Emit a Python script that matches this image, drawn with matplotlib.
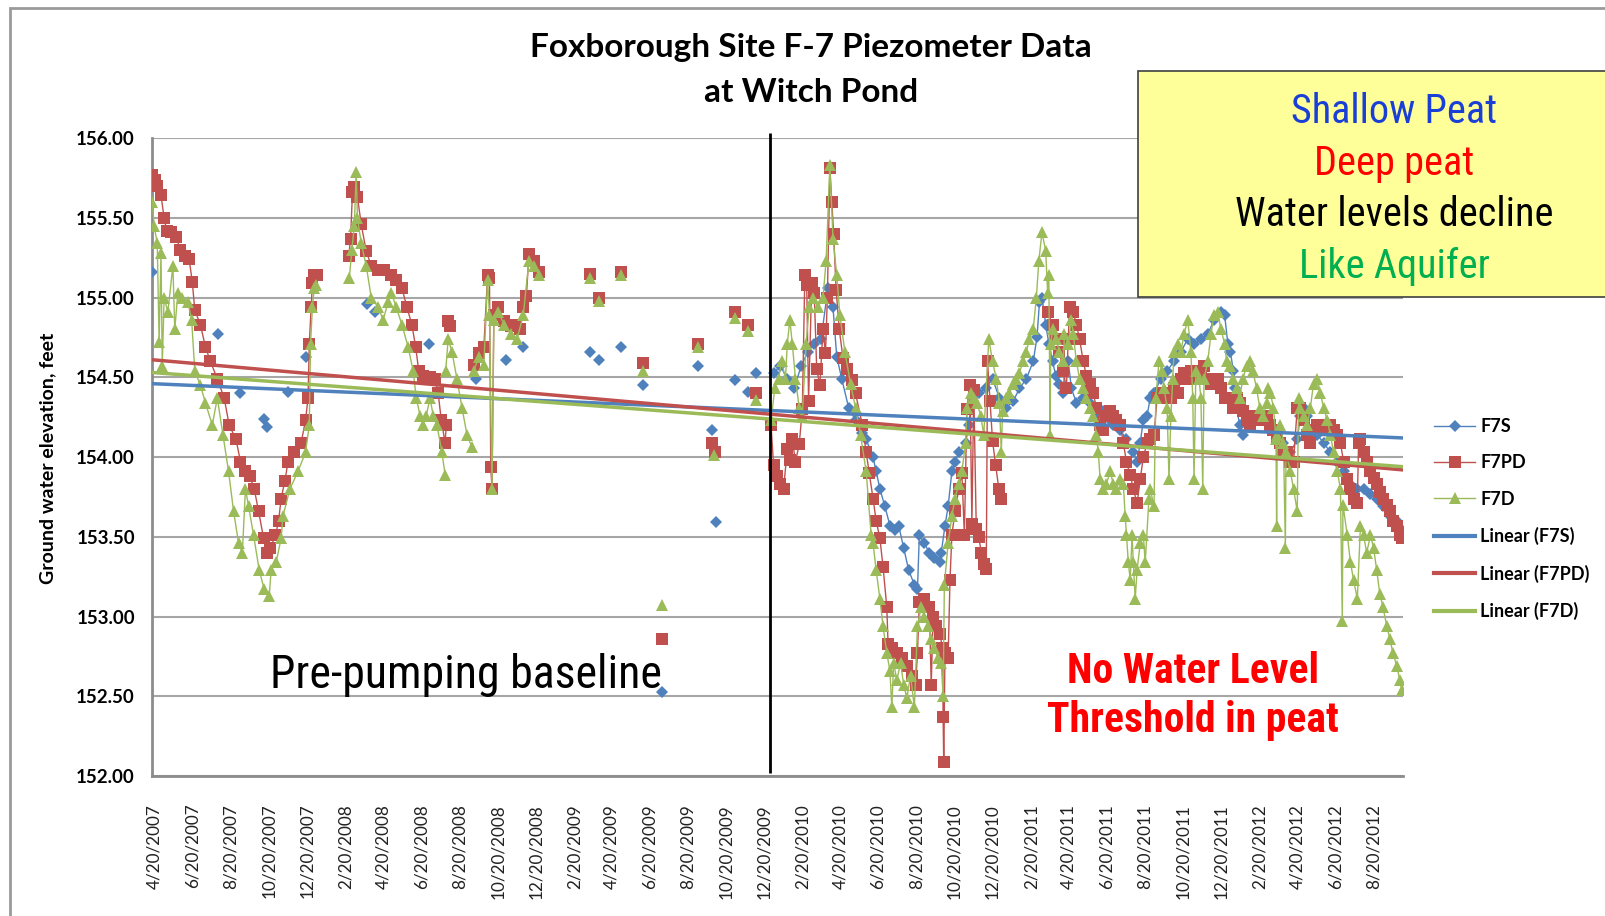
import numpy as np
import pandas as pd
import matplotlib
matplotlib.use("Agg")
import matplotlib.pyplot as plt
import matplotlib.dates as mdates
from matplotlib.patches import Rectangle
from matplotlib.lines import Line2D

# ---------------- data ----------------
# each series is a list of segments; a gap is left between segments

f7s_sparse = [
    ("2007-04-17", 155.16), ("2007-07-31", 154.77), ("2007-09-05", 154.40),
    ("2007-10-13", 154.24), ("2007-10-18", 154.19), ("2007-11-20", 154.41),
    ("2007-12-18", 154.63), ("2008-03-25", 154.96), ("2008-04-07", 154.91),
    ("2008-07-02", 154.71), ("2008-08-01", 154.84), ("2008-09-16", 154.49),
    ("2008-11-03", 154.61), ("2008-11-30", 154.69), ("2009-03-16", 154.66),
    ("2009-03-31", 154.61), ("2009-05-05", 154.69), ("2009-06-10", 154.45),
    ("2009-07-10", 152.53), ("2009-09-05", 154.57), ("2009-09-27", 154.17),
    ("2009-10-04", 153.59), ("2009-11-03", 154.48), ("2009-11-24", 154.41),
    ("2009-12-07", 154.53),
]

f7s_post = [
    ("2010-01-04", 154.53), ("2010-01-15", 154.57), ("2010-01-26", 154.49),
    ("2010-02-06", 154.43), ("2010-02-17", 154.57), ("2010-02-28", 154.66),
    ("2010-03-10", 154.71), ("2010-03-21", 154.74), ("2010-04-01", 155.06),
    ("2010-04-09", 154.94), ("2010-04-15", 154.63), ("2010-04-23", 154.49),
    ("2010-05-04", 154.31), ("2010-05-15", 154.23), ("2010-05-26", 154.15),
    ("2010-06-01", 154.11), ("2010-06-12", 154.00), ("2010-06-17", 153.91),
    ("2010-06-23", 153.80), ("2010-07-01", 153.69), ("2010-07-09", 153.57),
    ("2010-07-17", 153.54), ("2010-07-23", 153.57), ("2010-07-31", 153.43),
    ("2010-08-08", 153.29), ("2010-08-17", 153.20), ("2010-08-22", 153.17),
    ("2010-08-25", 153.51), ("2010-09-02", 153.46), ("2010-09-10", 153.40),
    ("2010-09-18", 153.37), ("2010-09-27", 153.34), ("2010-09-29", 153.40),
    ("2010-10-05", 153.57), ("2010-10-10", 153.69), ("2010-10-16", 153.91),
    ("2010-10-21", 153.97), ("2010-10-27", 154.03), ("2010-11-07", 154.09),
    ("2010-11-12", 154.20), ("2010-11-17", 154.37), ("2010-11-28", 154.40),
    ("2010-12-09", 154.43), ("2010-12-20", 154.49), ("2010-12-31", 154.37),
    ("2011-01-11", 154.31), ("2011-01-22", 154.35), ("2011-02-01", 154.43),
    ("2011-02-12", 154.49), ("2011-02-23", 154.60), ("2011-03-01", 154.75),
    ("2011-03-05", 154.97), ("2011-03-09", 155.00), ("2011-03-15", 154.83),
    ("2011-03-20", 154.71), ("2011-03-26", 154.60), ("2011-03-31", 154.51),
    ("2011-04-06", 154.46), ("2011-04-12", 154.40), ("2011-04-14", 154.54),
    ("2011-04-20", 154.60), ("2011-04-25", 154.43), ("2011-05-03", 154.34),
    ("2011-05-14", 154.37), ("2011-05-24", 154.34), ("2011-06-04", 154.26),
    ("2011-06-15", 154.29), ("2011-06-26", 154.23), ("2011-07-01", 154.20),
    ("2011-07-12", 154.17), ("2011-07-22", 154.11), ("2011-08-02", 154.03),
    ("2011-08-08", 153.97), ("2011-08-13", 154.09), ("2011-08-18", 154.23),
    ("2011-08-24", 154.26), ("2011-08-29", 154.37), ("2011-09-04", 154.40),
    ("2011-09-15", 154.49), ("2011-09-25", 154.54), ("2011-10-06", 154.60),
    ("2011-10-17", 154.66), ("2011-10-28", 154.74), ("2011-11-07", 154.71),
    ("2011-11-18", 154.74), ("2011-11-29", 154.77), ("2011-12-09", 154.86),
    ("2011-12-20", 154.91), ("2011-12-26", 154.89), ("2011-12-31", 154.71),
    ("2012-01-04", 154.66), ("2012-01-09", 154.54), ("2012-01-12", 154.43),
    ("2012-01-14", 154.31), ("2012-01-19", 154.20), ("2012-01-24", 154.14),
    ("2012-01-30", 154.20), ("2012-02-04", 154.23), ("2012-02-15", 154.26),
    ("2012-02-26", 154.23), ("2012-03-08", 154.20), ("2012-03-18", 154.14),
    ("2012-03-29", 154.09), ("2012-04-09", 154.03), ("2012-04-20", 154.11),
    ("2012-04-25", 154.26), ("2012-04-30", 154.31), ("2012-05-06", 154.26),
    ("2012-05-11", 154.17), ("2012-05-22", 154.14), ("2012-06-01", 154.09),
    ("2012-06-12", 154.03), ("2012-06-23", 153.97), ("2012-07-03", 153.91),
    ("2012-07-14", 153.83), ("2012-07-25", 153.80), ("2012-08-04", 153.80),
    ("2012-08-15", 153.77), ("2012-08-25", 153.74), ("2012-09-04", 153.69),
    ("2012-09-15", 153.63), ("2012-09-26", 153.60), ("2012-10-04", 153.54),
]

f7pd_2007 = [
    ("2007-04-17", 155.77), ("2007-04-21", 155.74), ("2007-04-25", 155.70),
    ("2007-05-01", 155.64), ("2007-05-06", 155.50), ("2007-05-10", 155.42),
    ("2007-05-17", 155.41), ("2007-05-25", 155.38), ("2007-06-01", 155.30),
    ("2007-06-08", 155.26), ("2007-06-15", 155.24), ("2007-06-20", 155.10),
    ("2007-06-24", 154.92), ("2007-07-03", 154.83), ("2007-07-11", 154.69),
    ("2007-07-19", 154.60), ("2007-07-30", 154.49), ("2007-08-10", 154.37),
    ("2007-08-18", 154.20), ("2007-08-29", 154.11), ("2007-09-05", 153.97),
    ("2007-09-13", 153.91), ("2007-09-20", 153.88), ("2007-09-27", 153.80),
    ("2007-10-04", 153.66), ("2007-10-12", 153.49), ("2007-10-18", 153.40),
    ("2007-10-23", 153.43), ("2007-10-31", 153.51), ("2007-11-05", 153.60),
    ("2007-11-09", 153.74), ("2007-11-15", 153.85), ("2007-11-20", 153.97),
    ("2007-11-30", 154.03), ("2007-12-11", 154.09), ("2007-12-18", 154.23),
    ("2007-12-22", 154.37), ("2007-12-24", 154.71), ("2007-12-27", 154.94),
    ("2007-12-29", 155.09), ("2008-01-01", 155.14), ("2008-01-05", 155.14),
]
f7pd_2008a = [
    ("2008-02-25", 155.26), ("2008-02-28", 155.37), ("2008-03-02", 155.66),
    ("2008-03-05", 155.69), ("2008-03-10", 155.63), ("2008-03-16", 155.46),
    ("2008-03-24", 155.29), ("2008-04-01", 155.20), ("2008-04-12", 155.17),
    ("2008-04-22", 155.17), ("2008-05-03", 155.14), ("2008-05-11", 155.11),
    ("2008-05-20", 155.06), ("2008-05-28", 154.94), ("2008-06-05", 154.83),
    ("2008-06-11", 154.69), ("2008-06-16", 154.54), ("2008-06-23", 154.51),
    ("2008-07-04", 154.50), ("2008-07-12", 154.49), ("2008-07-17", 154.40),
    ("2008-07-22", 154.23), ("2008-07-28", 154.09), ("2008-07-30", 154.20),
]
f7pd_2008b = [("2008-08-02", 154.85), ("2008-08-05", 154.82)]
f7pd_2008c = [
    ("2008-09-12", 154.58), ("2008-09-20", 154.65), ("2008-09-28", 154.69),
    ("2008-10-04", 155.14), ("2008-10-07", 155.12), ("2008-10-09", 153.94),
    ("2008-10-11", 153.80), ("2008-10-14", 154.89), ("2008-10-20", 154.94),
    ("2008-10-31", 154.85), ("2008-11-10", 154.82), ("2008-11-16", 154.83),
    ("2008-11-25", 154.80), ("2008-11-30", 154.94), ("2008-12-05", 155.01),
    ("2008-12-09", 155.27), ("2008-12-17", 155.23), ("2008-12-25", 155.16),
]
f7pd_sparse = [
    ("2009-03-16", 155.15), ("2009-03-31", 155.00), ("2009-05-05", 155.16),
    ("2009-06-10", 154.59), ("2009-07-10", 152.86), ("2009-09-05", 154.71),
    ("2009-09-27", 154.09), ("2009-10-03", 154.03), ("2009-11-03", 154.91),
    ("2009-11-24", 154.83), ("2009-12-07", 154.40),
]
f7pd_2010 = [
    ("2009-12-31", 154.20), ("2010-01-04", 153.95), ("2010-01-09", 153.88),
    ("2010-01-15", 153.83), ("2010-01-20", 153.80), ("2010-01-26", 154.05),
    ("2010-01-30", 153.98), ("2010-02-03", 154.11), ("2010-02-08", 153.97),
    ("2010-02-14", 154.08), ("2010-02-19", 154.30), ("2010-02-23", 155.14),
    ("2010-02-26", 155.08), ("2010-03-01", 154.35), ("2010-03-06", 155.09),
    ("2010-03-10", 155.03), ("2010-03-14", 154.55), ("2010-03-19", 154.45),
    ("2010-03-24", 154.80), ("2010-03-28", 154.65), ("2010-03-31", 155.00),
    ("2010-04-04", 155.81), ("2010-04-07", 155.60), ("2010-04-10", 155.40),
    ("2010-04-14", 155.05), ("2010-04-19", 154.80), ("2010-04-25", 154.62),
    ("2010-05-02", 154.55), ("2010-05-09", 154.48), ("2010-05-15", 154.40),
    ("2010-05-26", 154.20), ("2010-06-01", 154.03), ("2010-06-06", 153.90),
    ("2010-06-12", 153.74), ("2010-06-17", 153.60), ("2010-06-23", 153.49),
    ("2010-06-28", 153.31), ("2010-07-04", 153.06), ("2010-07-06", 152.83),
    ("2010-07-12", 152.80), ("2010-07-20", 152.77), ("2010-07-28", 152.74),
    ("2010-08-05", 152.69), ("2010-08-14", 152.63), ("2010-08-19", 152.57),
    ("2010-08-22", 152.77), ("2010-08-25", 153.09), ("2010-09-02", 153.11),
    ("2010-09-10", 153.06), ("2010-09-13", 152.57), ("2010-09-16", 153.00),
    ("2010-09-21", 152.94), ("2010-09-27", 152.89), ("2010-10-01", 152.80),
    ("2010-10-02", 152.37), ("2010-10-03", 152.09), ("2010-10-05", 152.77),
    ("2010-10-10", 152.74), ("2010-10-13", 153.23), ("2010-10-16", 153.51),
    ("2010-10-21", 153.66), ("2010-10-27", 153.80), ("2010-11-01", 153.90),
    ("2010-11-05", 153.51), ("2010-11-09", 154.30), ("2010-11-14", 154.45),
    ("2010-11-17", 153.58), ("2010-11-20", 154.42), ("2010-11-24", 153.55),
    ("2010-11-28", 153.50), ("2010-12-02", 153.40), ("2010-12-07", 153.33),
    ("2010-12-10", 153.30), ("2010-12-12", 154.60), ("2010-12-16", 154.35),
    ("2010-12-20", 154.10), ("2010-12-25", 153.95), ("2010-12-30", 153.80),
    ("2011-01-03", 153.74),
]
f7pd_2011 = [
    ("2011-03-18", 154.91), ("2011-03-26", 154.83), ("2011-03-31", 154.74),
    ("2011-04-06", 154.66), ("2011-04-12", 154.54), ("2011-04-17", 154.43),
    ("2011-04-20", 154.74), ("2011-04-22", 154.94), ("2011-04-28", 154.91),
    ("2011-05-03", 154.83), ("2011-05-08", 154.74), ("2011-05-14", 154.60),
    ("2011-05-19", 154.51), ("2011-05-24", 154.46), ("2011-05-30", 154.40),
    ("2011-06-04", 154.31), ("2011-06-10", 154.20), ("2011-06-15", 154.17),
    ("2011-06-20", 154.26), ("2011-06-26", 154.29), ("2011-07-01", 154.26),
    ("2011-07-06", 154.23), ("2011-07-12", 154.20), ("2011-07-17", 154.09),
    ("2011-07-22", 153.97), ("2011-07-28", 153.89), ("2011-08-02", 153.80),
    ("2011-08-08", 153.71), ("2011-08-13", 153.86), ("2011-08-18", 154.00),
    ("2011-08-24", 154.09), ("2011-08-29", 154.11), ("2011-09-04", 154.14),
    ("2011-09-09", 154.37), ("2011-09-15", 154.40), ("2011-09-20", 154.37),
    ("2011-09-25", 154.40), ("2011-10-01", 154.37), ("2011-10-06", 154.43),
    ("2011-10-12", 154.40), ("2011-10-17", 154.49), ("2011-10-22", 154.53),
    ("2011-10-28", 154.49), ("2011-11-02", 154.54), ("2011-11-07", 154.51),
    ("2011-11-13", 154.49), ("2011-11-18", 154.54), ("2011-11-23", 154.57),
    ("2011-11-29", 154.49), ("2011-12-04", 154.46), ("2011-12-09", 154.46),
    ("2011-12-15", 154.49), ("2011-12-20", 154.43), ("2011-12-26", 154.37),
    ("2011-12-31", 154.37), ("2012-01-09", 154.31), ("2012-01-14", 154.37),
    ("2012-01-19", 154.34), ("2012-01-24", 154.29), ("2012-01-30", 154.23),
    ("2012-02-04", 154.20), ("2012-02-09", 154.26), ("2012-02-15", 154.23),
    ("2012-02-20", 154.23), ("2012-02-26", 154.23), ("2012-03-02", 154.26),
    ("2012-03-08", 154.20), ("2012-03-13", 154.17), ("2012-03-18", 154.11),
    ("2012-03-24", 154.09), ("2012-03-29", 154.03), ("2012-04-03", 154.03),
    ("2012-04-09", 153.97), ("2012-04-14", 153.97), ("2012-04-20", 154.31),
    ("2012-04-25", 154.31), ("2012-04-30", 154.23), ("2012-05-06", 154.14),
    ("2012-05-11", 154.09), ("2012-05-16", 154.17), ("2012-05-22", 154.20),
    ("2012-05-27", 154.17), ("2012-06-01", 154.17), ("2012-06-07", 154.20),
    ("2012-06-12", 154.20), ("2012-06-17", 154.17), ("2012-06-23", 154.14),
    ("2012-06-28", 154.09), ("2012-07-03", 153.97), ("2012-07-09", 153.86),
    ("2012-07-14", 153.80), ("2012-07-19", 153.74), ("2012-07-25", 153.71),
    ("2012-07-27", 154.09), ("2012-07-30", 154.11), ("2012-08-04", 154.03),
    ("2012-08-09", 153.97), ("2012-08-15", 153.91), ("2012-08-20", 153.87),
    ("2012-08-25", 153.83), ("2012-08-30", 153.78), ("2012-09-04", 153.74),
    ("2012-09-10", 153.70), ("2012-09-15", 153.66), ("2012-09-20", 153.60),
    ("2012-09-26", 153.57), ("2012-10-01", 153.51), ("2012-10-04", 153.49),
]

f7d_2007 = [
    ("2007-04-17", 155.60), ("2007-04-20", 155.45), ("2007-04-25", 155.34),
    ("2007-04-28", 154.72), ("2007-05-01", 155.28), ("2007-05-03", 154.57),
    ("2007-05-06", 155.00), ("2007-05-12", 154.91), ("2007-05-20", 155.20),
    ("2007-05-23", 154.80), ("2007-05-28", 155.03), ("2007-06-04", 155.00),
    ("2007-06-13", 154.97), ("2007-06-19", 154.86), ("2007-06-24", 154.54),
    ("2007-07-03", 154.45), ("2007-07-11", 154.34), ("2007-07-22", 154.20),
    ("2007-07-30", 154.37), ("2007-08-08", 154.14), ("2007-08-17", 153.91),
    ("2007-08-25", 153.66), ("2007-09-02", 153.46), ("2007-09-08", 153.40),
    ("2007-09-13", 153.80), ("2007-09-18", 153.69), ("2007-09-26", 153.51),
    ("2007-10-05", 153.29), ("2007-10-13", 153.17), ("2007-10-21", 153.13),
    ("2007-10-24", 153.29), ("2007-11-01", 153.34), ("2007-11-09", 153.49),
    ("2007-11-12", 153.63), ("2007-11-23", 153.80), ("2007-12-06", 153.91),
    ("2007-12-18", 154.03), ("2007-12-24", 154.20), ("2007-12-26", 154.71),
    ("2007-12-29", 154.94), ("2008-01-01", 155.06), ("2008-01-04", 155.08),
]
f7d_2008a = [
    ("2008-02-26", 155.12), ("2008-03-01", 155.30), ("2008-03-05", 155.45),
    ("2008-03-08", 155.79), ("2008-03-10", 155.50), ("2008-03-16", 155.34),
    ("2008-03-24", 155.20), ("2008-04-01", 155.00), ("2008-04-12", 154.94),
    ("2008-04-20", 154.86), ("2008-04-28", 154.97), ("2008-05-03", 155.03),
    ("2008-05-11", 154.94), ("2008-05-20", 154.83), ("2008-05-30", 154.69),
    ("2008-06-07", 154.54), ("2008-06-12", 154.37), ("2008-06-18", 154.26),
    ("2008-06-23", 154.20), ("2008-06-28", 154.26), ("2008-07-04", 154.37),
    ("2008-07-09", 154.26), ("2008-07-15", 154.20), ("2008-07-23", 154.03),
    ("2008-07-28", 153.89),
]
f7d_2008b = [
    ("2008-07-29", 154.54), ("2008-08-02", 154.74), ("2008-08-08", 154.66),
    ("2008-08-16", 154.49), ("2008-08-24", 154.31), ("2008-09-01", 154.14),
    ("2008-09-09", 154.06),
]
f7d_2008c = [
    ("2008-09-12", 154.54), ("2008-09-20", 154.63), ("2008-09-28", 154.58),
    ("2008-10-04", 155.11), ("2008-10-07", 154.89), ("2008-10-11", 153.80),
    ("2008-10-14", 154.86), ("2008-10-20", 154.91), ("2008-10-31", 154.83),
    ("2008-11-10", 154.77), ("2008-11-20", 154.74), ("2008-11-30", 154.89),
    ("2008-12-09", 155.23), ("2008-12-17", 155.20), ("2008-12-25", 155.14),
]
f7d_sparse = [
    ("2009-03-16", 155.12), ("2009-03-31", 154.98), ("2009-05-05", 155.14),
    ("2009-06-10", 154.54), ("2009-07-10", 153.07), ("2009-09-05", 154.69),
    ("2009-10-01", 154.01), ("2009-11-03", 154.87), ("2009-11-24", 154.79),
    ("2009-12-07", 154.36),
]
f7d_post = [
    ("2009-12-31", 154.23), ("2010-01-06", 154.43), ("2010-01-12", 154.49),
    ("2010-01-17", 154.60), ("2010-01-23", 154.49), ("2010-01-26", 154.71),
    ("2010-01-30", 154.86), ("2010-02-03", 154.71), ("2010-02-08", 154.49),
    ("2010-02-14", 154.31), ("2010-02-19", 154.26), ("2010-02-25", 154.71),
    ("2010-03-02", 154.94), ("2010-03-08", 155.00), ("2010-03-16", 154.94),
    ("2010-03-24", 155.00), ("2010-03-29", 155.23), ("2010-04-04", 155.83),
    ("2010-04-09", 155.37), ("2010-04-15", 155.14), ("2010-04-20", 154.89),
    ("2010-04-28", 154.66), ("2010-05-07", 154.46), ("2010-05-15", 154.31),
    ("2010-05-23", 154.14), ("2010-06-01", 153.91), ("2010-06-09", 153.51),
    ("2010-06-12", 153.46), ("2010-06-17", 153.29), ("2010-06-23", 153.11),
    ("2010-06-28", 152.94), ("2010-07-04", 152.77), ("2010-07-09", 152.66),
    ("2010-07-12", 152.43), ("2010-07-15", 152.71), ("2010-07-20", 152.60),
    ("2010-07-26", 152.71), ("2010-07-31", 152.57), ("2010-08-05", 152.49),
    ("2010-08-11", 152.63), ("2010-08-17", 152.43), ("2010-08-22", 152.94),
    ("2010-08-28", 153.06), ("2010-09-02", 153.00), ("2010-09-08", 152.94),
    ("2010-09-13", 152.86), ("2010-09-18", 152.80), ("2010-09-24", 152.74),
    ("2010-09-29", 152.71), ("2010-10-02", 152.50), ("2010-10-04", 153.20),
    ("2010-10-10", 153.46), ("2010-10-16", 153.63), ("2010-10-21", 153.74),
    ("2010-10-27", 153.83), ("2010-11-01", 153.91), ("2010-11-07", 154.09),
    ("2010-11-09", 154.31), ("2010-11-15", 154.40), ("2010-11-20", 154.37),
    ("2010-11-25", 154.34), ("2010-12-01", 154.26), ("2010-12-06", 154.14),
    ("2010-12-14", 154.74), ("2010-12-20", 154.60), ("2010-12-26", 154.49),
    ("2010-12-31", 154.34), ("2011-01-03", 154.03), ("2011-01-05", 154.29),
    ("2011-01-11", 154.37), ("2011-01-16", 154.40), ("2011-01-22", 154.46),
    ("2011-01-27", 154.49), ("2011-02-01", 154.53), ("2011-02-07", 154.60),
    ("2011-02-12", 154.66), ("2011-02-17", 154.74), ("2011-02-23", 154.80),
    ("2011-02-28", 155.00), ("2011-03-04", 155.23), ("2011-03-09", 155.41),
    ("2011-03-15", 155.29), ("2011-03-18", 155.03), ("2011-03-20", 155.14),
    ("2011-03-22", 154.14), ("2011-03-23", 154.71), ("2011-03-26", 154.80),
    ("2011-03-31", 154.74), ("2011-04-06", 154.66), ("2011-04-12", 154.60),
    ("2011-04-14", 154.77), ("2011-04-20", 154.71), ("2011-04-25", 154.86),
    ("2011-04-28", 154.77), ("2011-05-03", 154.60), ("2011-05-08", 154.49),
    ("2011-05-14", 154.43), ("2011-05-19", 154.37), ("2011-05-24", 154.31),
    ("2011-05-30", 154.26), ("2011-06-04", 154.14), ("2011-06-07", 154.03),
    ("2011-06-10", 153.86), ("2011-06-15", 153.80), ("2011-06-20", 153.83),
    ("2011-06-26", 153.91), ("2011-07-01", 153.83), ("2011-07-06", 153.80),
    ("2011-07-12", 153.86), ("2011-07-17", 153.83), ("2011-07-20", 153.63),
    ("2011-07-22", 153.51), ("2011-07-25", 153.34), ("2011-07-28", 153.23),
    ("2011-07-31", 153.51), ("2011-08-02", 153.34), ("2011-08-05", 153.11),
    ("2011-08-08", 153.29), ("2011-08-13", 153.46), ("2011-08-18", 153.51),
    ("2011-08-21", 153.34), ("2011-08-27", 153.74), ("2011-08-29", 153.80),
    ("2011-09-04", 153.69), ("2011-09-07", 154.37), ("2011-09-12", 154.60),
    ("2011-09-17", 154.54), ("2011-09-20", 154.43), ("2011-09-25", 154.31),
    ("2011-09-28", 153.86), ("2011-10-01", 154.26), ("2011-10-04", 154.49),
    ("2011-10-06", 154.66), ("2011-10-12", 154.71), ("2011-10-17", 154.66),
    ("2011-10-22", 154.77), ("2011-10-28", 154.86), ("2011-11-02", 154.66),
    ("2011-11-05", 154.37), ("2011-11-07", 153.86), ("2011-11-10", 154.54),
    ("2011-11-15", 154.49), ("2011-11-18", 154.37), ("2011-11-21", 153.80),
    ("2011-11-23", 154.49), ("2011-11-29", 154.60), ("2011-12-04", 154.77),
    ("2011-12-09", 154.89), ("2011-12-15", 154.91), ("2011-12-20", 154.80),
    ("2011-12-26", 154.71), ("2011-12-29", 154.60), ("2012-01-03", 154.57),
    ("2012-01-09", 154.49), ("2012-01-14", 154.43), ("2012-01-19", 154.37),
    ("2012-01-24", 154.49), ("2012-01-30", 154.57), ("2012-02-04", 154.60),
    ("2012-02-09", 154.54), ("2012-02-15", 154.43), ("2012-02-20", 154.31),
    ("2012-02-26", 154.26), ("2012-03-02", 154.34), ("2012-03-05", 154.43),
    ("2012-03-08", 154.40), ("2012-03-13", 154.31), ("2012-03-17", 154.11),
    ("2012-03-18", 153.57), ("2012-03-19", 154.14), ("2012-03-24", 154.20),
    ("2012-03-29", 154.09), ("2012-04-01", 153.43), ("2012-04-02", 154.03),
    ("2012-04-09", 153.91), ("2012-04-14", 153.80), ("2012-04-20", 153.66),
    ("2012-04-22", 154.37), ("2012-04-25", 154.31), ("2012-04-30", 154.26),
    ("2012-05-06", 154.20), ("2012-05-11", 154.31), ("2012-05-16", 154.46),
    ("2012-05-22", 154.49), ("2012-05-27", 154.40), ("2012-06-01", 154.31),
    ("2012-06-07", 154.23), ("2012-06-12", 154.14), ("2012-06-17", 154.03),
    ("2012-06-23", 153.91), ("2012-06-28", 153.80), ("2012-07-01", 152.97),
    ("2012-07-02", 153.70), ("2012-07-09", 153.51), ("2012-07-14", 153.34),
    ("2012-07-19", 153.23), ("2012-07-25", 153.11), ("2012-07-30", 153.57),
    ("2012-08-04", 153.51), ("2012-08-09", 153.40), ("2012-08-15", 153.51),
    ("2012-08-20", 153.43), ("2012-08-25", 153.29), ("2012-08-30", 153.14),
    ("2012-09-04", 153.06), ("2012-09-10", 152.94), ("2012-09-15", 152.86),
    ("2012-09-20", 152.77), ("2012-09-26", 152.69), ("2012-10-01", 152.60),
    ("2012-10-04", 152.54),
]

# linear trend lines (start / end values as drawn in the reference)
trend_dates = ["2007-04-17", "2012-10-04"]
trend_f7s = [154.46, 154.12]
trend_f7pd = [154.61, 153.92]
trend_f7d = [154.53, 153.94]

pumping_start = "2009-12-29"

blue, red, green = "#4F81BD", "#C0504D", "#9BBB59"


def build(segments):
    xs, ys = [], []
    for seg in segments:
        for d, v in seg:
            xs.append(pd.Timestamp(d))
            ys.append(v)
        xs.append(xs[-1] + pd.Timedelta(hours=12))
        ys.append(np.nan)
    return xs, ys


def singles(points):
    return [[p] for p in points]


plt.rcParams['font.family'] = ['Lato', 'DejaVu Sans']
narrow = ['Liberation Sans Narrow', 'Roboto Condensed', 'DejaVu Sans']

fig = plt.figure(figsize=(16.06, 9.16), dpi=100)
ax = fig.add_axes([0.0944, 0.1528, 0.7792, 0.6965])

s_x, s_y = build(singles(f7s_sparse) + [f7s_post])
pd_x, pd_y = build([f7pd_2007, f7pd_2008a, f7pd_2008b, f7pd_2008c]
                   + singles(f7pd_sparse) + [f7pd_2010, f7pd_2011])
d_x, d_y = build([f7d_2007, f7d_2008a, f7d_2008b, f7d_2008c]
                 + singles(f7d_sparse) + [f7d_post])

ax.plot(s_x, s_y, color=blue, lw=1, marker='D', ms=6, mew=0, zorder=3)
ax.plot(pd_x, pd_y, color=red, lw=1, marker='s', ms=8, mew=0, zorder=4)
ax.plot(d_x, d_y, color=green, lw=1, marker='^', ms=8.5, mew=0, zorder=5)

tx = pd.to_datetime(trend_dates)
ax.plot(tx, trend_f7s, color=blue, lw=2.5, zorder=6)
ax.plot(tx, trend_f7pd, color=red, lw=2.5, zorder=6)
ax.plot(tx, trend_f7d, color=green, lw=2.5, zorder=6)

ax.vlines(pd.Timestamp(pumping_start), 152.02, 156.03, color='black', lw=2,
          zorder=7, clip_on=False)

ax.set_ylim(152, 156)
ax.set_xlim(pd.Timestamp("2007-04-16"), pd.Timestamp("2012-10-06"))
ax.set_yticks(np.arange(152, 156.01, 0.5))
ax.yaxis.set_major_formatter(plt.FuncFormatter(lambda v, p: f"{v:.2f}"))
ax.xaxis.set_major_locator(mdates.MonthLocator(bymonth=(2, 4, 6, 8, 10, 12), bymonthday=20))
ax.xaxis.set_major_formatter(plt.FuncFormatter(
    lambda v, p: (lambda d: f"{d.month}/{d.day}/{d.year}")(mdates.num2date(v))))
ax.tick_params(axis='x', labelrotation=90, length=0, pad=20, labelsize=12.3,
               labelcolor='#222222')
ax.tick_params(axis='y', length=0, pad=12, labelsize=13.5)
for lab in ax.get_yticklabels():
    lab.set_fontweight('bold')
ax.grid(axis='y', color='#a6a6a6', lw=1.5)
ax.set_axisbelow(True)
for side in ('top', 'right'):
    ax.spines[side].set_visible(False)
for side in ('left', 'bottom'):
    ax.spines[side].set_color('#8c8c8c')
    ax.spines[side].set_linewidth(2)

fig.text(48 / 1606, 0.5, "Ground water elevation, feet", rotation=90,
         ha='center', va='center', fontsize=14, fontweight='bold')

# titles and annotations
fig.text(0.505, 1 - 47 / 916, "Foxborough Site F-7 Piezometer Data",
         ha='center', va='center', fontsize=24, fontweight='bold')
fig.text(0.505, 1 - 92 / 916, "at Witch Pond",
         ha='center', va='center', fontsize=24, fontweight='bold')

fig.text(0.290, 0.249, "Pre-pumping baseline", ha='center', va='baseline',
         fontsize=33, family=narrow, stretch='condensed', zorder=8)
fig.text(0.743, 0.254, "No Water Level", ha='center', va='baseline',
         fontsize=30, family=narrow, stretch='condensed', fontweight='bold',
         color='#ff0000', zorder=8)
fig.text(0.743, 0.201, "Threshold in peat", ha='center', va='baseline',
         fontsize=30, family=narrow, stretch='condensed', fontweight='bold',
         color='#ff0000', zorder=8)

box = Rectangle((1138 / 1606, 1 - 297 / 916), 0.5, 226 / 916,
                transform=fig.transFigure, facecolor='#ffff99',
                edgecolor='#404040', lw=1.2, zorder=9)
fig.add_artist(box)
box_lines = [("Shallow Peat", '#1a3fd6', 0.866), ("Deep peat", '#ff0000', 0.809),
             ("Water levels decline", 'black', 0.753), ("Like Aquifer", '#00b050', 0.697)]
for txt, col, yy in box_lines:
    fig.text(0.868, yy, txt, ha='center', va='baseline', fontsize=29,
             family=narrow, stretch='condensed', color=col, zorder=10)

# outer chart border
fig.add_artist(Rectangle((10 / 1606, -0.1), 1.2, 1.1 - 8 / 916,
                         transform=fig.transFigure, fill=False,
                         edgecolor='#9a9a9a', lw=2, zorder=1))

handles = [
    Line2D([], [], color=blue, lw=1, marker='D', ms=6, mew=0),
    Line2D([], [], color=red, lw=1, marker='s', ms=8, mew=0),
    Line2D([], [], color=green, lw=1, marker='^', ms=8.5, mew=0),
    Line2D([], [], color=blue, lw=3),
    Line2D([], [], color=red, lw=3),
    Line2D([], [], color=green, lw=3),
]
labels = ["F7S", "F7PD", "F7D", "Linear (F7S)", "Linear (F7PD)", "Linear (F7D)"]
fig.legend(handles, labels, loc='upper left', bbox_to_anchor=(0.893, 0.5436),
           frameon=False, prop={'weight': 'bold', 'size': 13},
           handlelength=2.28, handletextpad=0.28, labelspacing=1.07,
           borderpad=0, borderaxespad=0)

fig.savefig("out.png", dpi=100, facecolor='white')
